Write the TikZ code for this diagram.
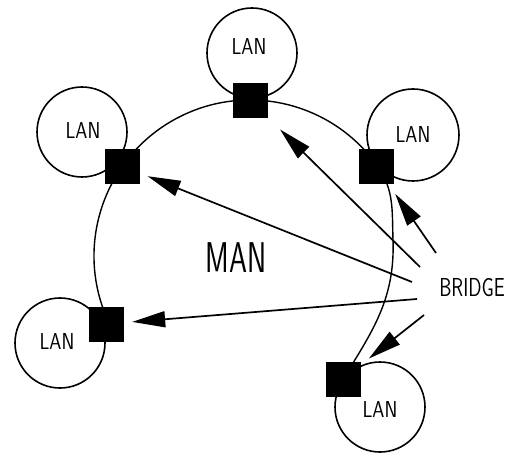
\documentclass[tikz,border=0pt]{standalone}
\usepackage{fontspec}
\usetikzlibrary{arrows.meta}
\begin{document}
\begin{tikzpicture}[x=1pt,y=1pt,
  lan/.style={draw,circle,line width=1.6pt,minimum size=90pt,inner sep=0pt},
  bridgebox/.style={fill=black,draw=black,minimum size=34pt,inner sep=0pt},
  ring/.style={line width=1.4pt},
  arr/.style={line width=1.7pt,-{Triangle[length=33pt,width=16pt]}},
  lantext/.style={font=\sffamily,inner sep=0pt}]
\useasboundingbox (0,0) rectangle (513,455);
% LAN circles
\node[lan] (lanT)  at (252,402) {};
\node[lan] (lanLT) at (82,323) {};
\node[lan,minimum size=92pt] (lanRT) at (413,320) {};
\node[lan] (lanLB) at (60,112) {};
\node[lan] (lanBR) at (380,48) {};
% MAN ring
\coordinate (ctr) at (250,199);
\draw[ring] (ctr) ++(205.6:156) arc[start angle=205.6,end angle=35.2,radius=156]
  to[out=-55,in=92] (393,215) to[out=-88,in=58] (343,76);
% bridges
\node[bridgebox] (bT)  at (250,355) {};
\node[bridgebox] (bLT) at (122,289) {};
\node[bridgebox] (bRT) at (376,289) {};
\node[bridgebox] (bLB) at (106,131) {};
\node[bridgebox] (bBR) at (343,76) {};
% texts
\node[lantext] (tT)  at (249,408) {\scalebox{0.84}[1]{\fontsize{23}{23}\selectfont LAN}};
\node[lantext] (tLT) at (83,324) {\scalebox{0.84}[1]{\fontsize{23}{23}\selectfont LAN}};
\node[lantext] (tRT) at (413,320) {\scalebox{0.84}[1]{\fontsize{23}{23}\selectfont LAN}};
\node[lantext] (tLB) at (57,113) {\scalebox{0.84}[1]{\fontsize{23}{23}\selectfont LAN}};
\node[lantext] (tBR) at (380,45) {\scalebox{0.84}[1]{\fontsize{23}{23}\selectfont LAN}};
\node[lantext] (man) at (236,197) {\scalebox{0.67}[1]{\fontsize{43}{43}\selectfont MAN}};
\node[lantext] (bridge) at (472,167) {\scalebox{0.75}[1]{\fontsize{26}{26}\selectfont BRIDGE}};
% arrows
\coordinate (s1) at (412,173);
\coordinate (s2) at (420,188);
\coordinate (s3) at (436,202);
\coordinate (s4) at (417,156);
\coordinate (s5) at (424,140);
\draw[arr,shorten >=9pt] (s1) -- (bLT);
\draw[arr,shorten >=18pt] (s2) -- (bT);
\draw[arr,shorten >=13pt] (s3) -- (bRT);
\draw[arr,shorten >=9pt] (s4) -- (bLB);
\draw[arr,shorten >=11pt] (s5) -- (bBR);
\end{tikzpicture}
\end{document}
